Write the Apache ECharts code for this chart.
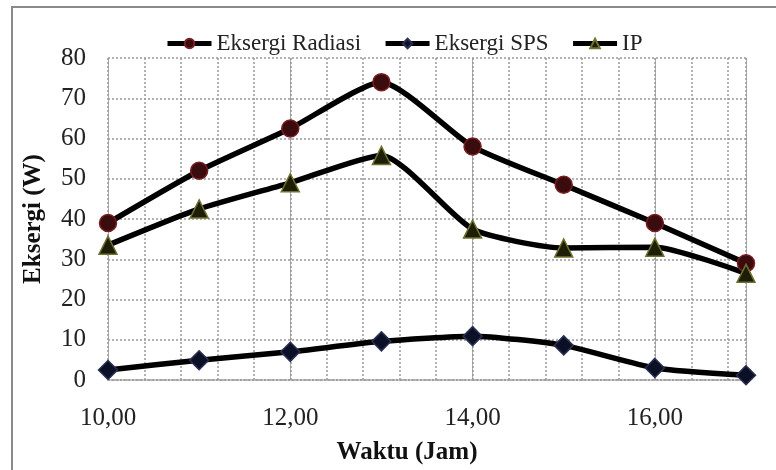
<!DOCTYPE html>
<html>
<head>
<meta charset="utf-8">
<script src="https://cdn.jsdelivr.net/npm/echarts@6/dist/echarts.min.js"></script>
<style>
  html, body { margin: 0; padding: 0; background: #fff; }
  #chart { width: 776px; height: 470px; }
</style>
</head>
<body>
<div id="chart"></div>
<script>
const hours = [10, 11, 12, 13, 14, 15, 16, 17]
const radiasi = [39, 52, 62.5, 74, 58, 48.5, 39, 29]
const sps = [2.5, 4.9, 7, 9.6, 10.9, 8.6, 3, 1.2]
const ip = [33.5, 42.5, 49, 55.8, 37.5, 32.8, 33, 26.5]
const seriesNames = ['Eksergi Radiasi', 'Eksergi SPS', 'IP']

const font = '"Liberation Serif", "Times New Roman", serif'

function pairs(vals) {
  return hours.map((h, i) => [h, vals[i]])
}

const chart = echarts.init(document.getElementById('chart'))

function lineSeries(name, vals, symbol, size, fill, border) {
  return {
    name: name,
    type: 'line',
    xAxisIndex: 0,
    data: pairs(vals),
    smooth: 0.2,
    symbol: symbol,
    symbolSize: size,
    lineStyle: { color: '#000', width: 5.5 },
    itemStyle: { color: fill, borderColor: border, borderWidth: 1.5 },
    z: 5
  }
}

chart.setOption({
  animation: false,
  backgroundColor: '#fff',
  graphic: [{
    type: 'rect',
    shape: { x: 12, y: 7, width: 800, height: 500 },
    style: { fill: 'none', stroke: '#8a8a8a', lineWidth: 2 },
    silent: true
  }],
  legend: {
    top: 27,
    left: 160,
    itemWidth: 44,
    itemHeight: 12,
    itemGap: 22,
    lineStyle: { color: '#000', width: 5 },
    textStyle: { fontFamily: font, fontSize: 23, color: '#222' },
    data: seriesNames
  },
  grid: { left: 108, right: 30, top: 58, bottom: 87 },
  xAxis: [{
    type: 'value',
    min: 10,
    max: 17,
    interval: 2,
    axisLine: { show: true, lineStyle: { color: '#999', type: 'dotted', width: 1.5 } },
    axisTick: { show: false },
    axisLabel: {
      showMaxLabel: false,
      margin: 26,
      fontFamily: font,
      fontSize: 25,
      color: '#222',
      formatter: v => v.toFixed(2).replace('.', ',')
    },
    splitLine: { show: true, lineStyle: { color: '#aaa', type: 'solid', width: 1 } },
    name: 'Waktu (Jam)',
    nameLocation: 'middle',
    nameGap: 60,
    nameTextStyle: { fontFamily: font, fontSize: 25, fontWeight: 'bold', color: '#111', padding: [0, 0, 0, -40] }
  }, {
    type: 'value',
    min: 10,
    max: 17,
    interval: 0.4,
    show: true,
    position: 'bottom',
    axisLine: { show: false },
    axisTick: { show: false },
    axisLabel: { show: false },
    splitLine: { show: true, lineStyle: { color: '#999', type: [2, 2], width: 1.5 } }
  }],
  yAxis: {
    type: 'value',
    min: 0,
    max: 80,
    interval: 10,
    axisLine: { show: false },
    axisTick: { show: false },
    axisLabel: { margin: 22, fontFamily: font, fontSize: 25, color: '#222' },
    splitLine: { show: true, lineStyle: { color: '#999', type: [2, 2], width: 1.5 } },
    name: 'Eksergi (W)',
    nameLocation: 'middle',
    nameGap: 62,
    nameTextStyle: { fontFamily: font, fontSize: 25, fontWeight: 'bold', color: '#111' }
  },
  series: [
    lineSeries(seriesNames[0], radiasi, 'circle', 17, '#3a0c0e', '#7a1e22'),
    lineSeries(seriesNames[1], sps, 'diamond', 19, '#0c1026', '#2a3050'),
    lineSeries(seriesNames[2], ip, 'triangle', 18, '#1c1e06', '#707030')
  ]
})
</script>
</body>
</html>
